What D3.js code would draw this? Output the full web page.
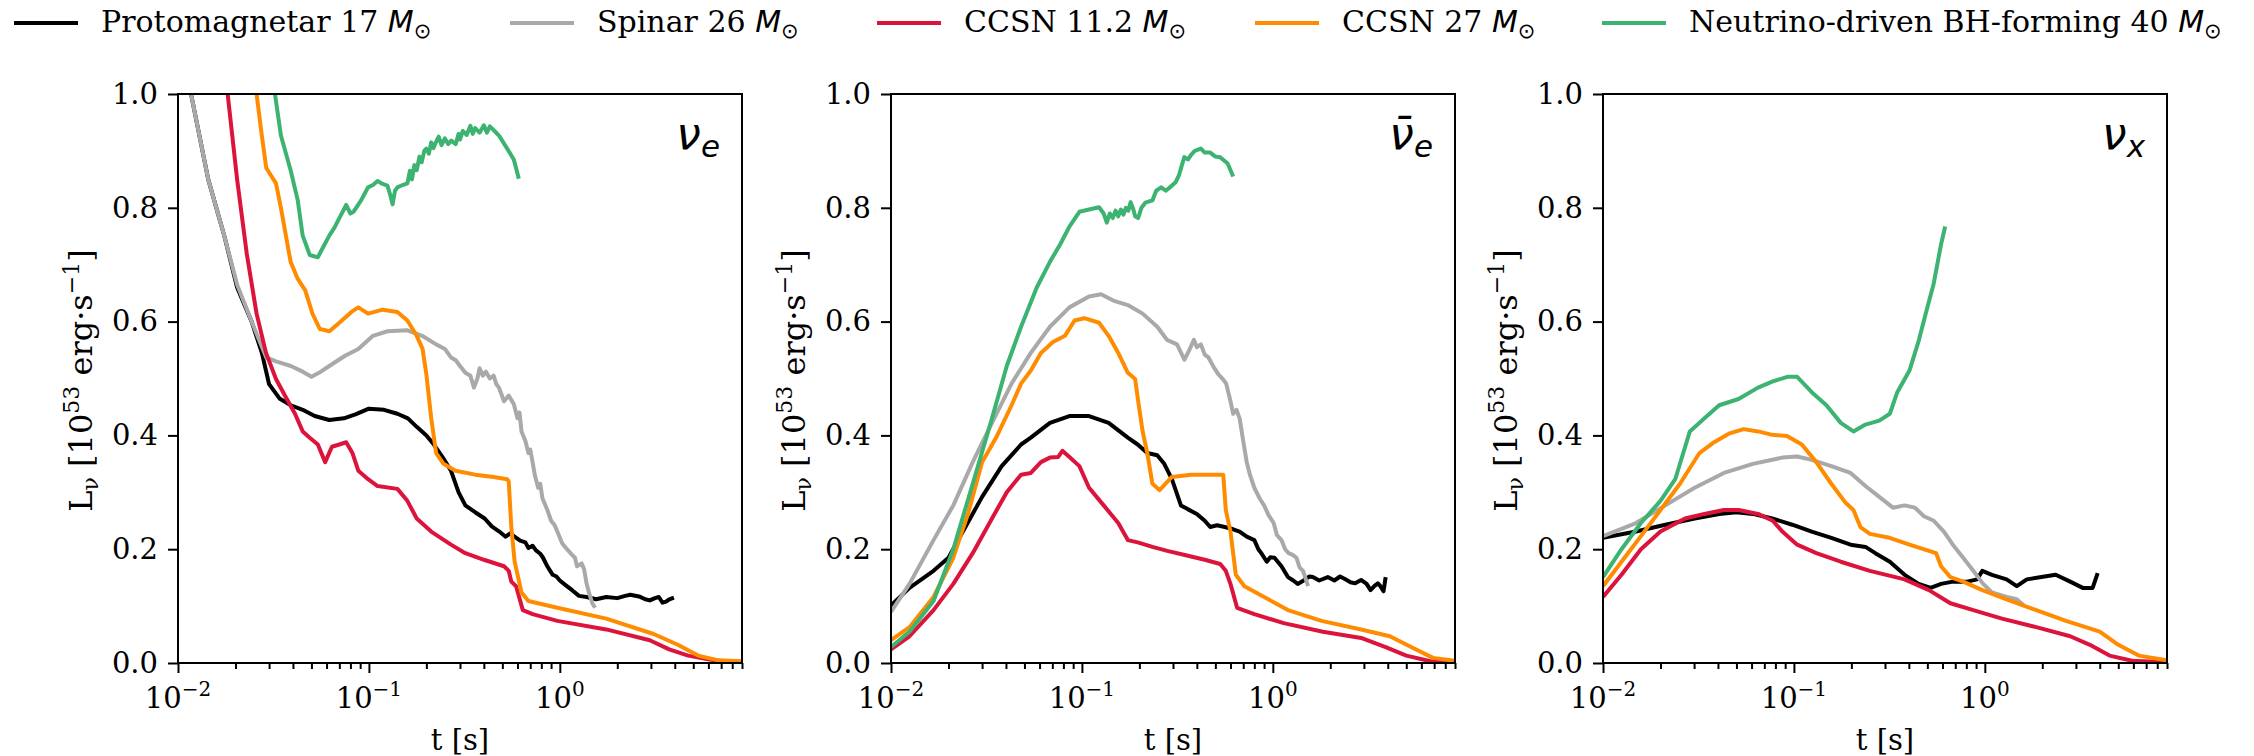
<!DOCTYPE html>
<html>
<head>
<meta charset="UTF-8">
<style>
  body { margin: 0; background: #fff; }
  svg text { font-family: "DejaVu Serif", serif; fill: #000; }
  .math { font-family: "DejaVu Sans", sans-serif; font-style: italic; }
  .sym { font-family: "DejaVu Sans", sans-serif; font-style: normal; }
  .curve { fill: none; stroke-width: 4; stroke-linejoin: round; }
  .spine { fill: none; stroke: #000; stroke-width: 2; }
  .tick line { stroke: #000; stroke-width: 2; }
</style>
</head>
<body>
<script src="https://cdn.jsdelivr.net/npm/d3@7"></script>
<script>
// series names / colours (legend order = drawing order)
var seriesNames = ["Protomagnetar 17 ", "Spinar 26 ", "CCSN 11.2 ", "CCSN 27 ", "Neutrino-driven BH-forming 40 "];
var seriesColors = ["#000000", "#a9a9a9", "#dc143c", "#ff8c00", "#3cb371"];
var yTicks = [0, 0.2, 0.4, 0.6, 0.8, 1.0];
var xMajor = [0.01, 0.1, 1];
var xMajorExp = ["\u22122", "\u22121", "0"];

// [t (s), L (1e53 erg/s)]
// --- nu_e
var nueProto = [[0.01,1.12],[0.0117,1.0],[0.0144,0.85],[0.0175,0.75],[0.0204,0.66],[0.0243,0.60],[0.0275,0.545],[0.030,0.49],[0.034,0.465],[0.039,0.453],[0.045,0.445],[0.052,0.434],[0.062,0.427],[0.074,0.43],[0.085,0.437],[0.10,0.447],[0.12,0.445],[0.141,0.438],[0.16,0.43],[0.178,0.415],[0.20,0.40],[0.219,0.384],[0.245,0.36],[0.269,0.338],[0.295,0.30],[0.32,0.277],[0.36,0.265],[0.404,0.254],[0.44,0.24],[0.482,0.231],[0.52,0.222],[0.55,0.228],[0.574,0.223],[0.62,0.215],[0.66,0.212],[0.685,0.202],[0.72,0.206],[0.75,0.198],[0.79,0.192],[0.817,0.185],[0.86,0.17],[0.89,0.162],[0.918,0.155],[0.96,0.152],[1.0,0.145],[1.08,0.136],[1.16,0.128],[1.26,0.118],[1.38,0.116],[1.55,0.112],[1.75,0.116],[2.0,0.114],[2.2,0.118],[2.34,0.12],[2.6,0.117],[2.8,0.112],[2.96,0.11],[3.15,0.114],[3.3,0.116],[3.45,0.106],[3.6,0.108],[3.75,0.112],[3.96,0.115]];
var nueSpinar = [[0.01,1.12],[0.0117,1.0],[0.0144,0.85],[0.0175,0.75],[0.0204,0.665],[0.0243,0.60],[0.029,0.537],[0.0326,0.53],[0.039,0.522],[0.045,0.512],[0.05,0.503],[0.056,0.512],[0.062,0.522],[0.075,0.54],[0.088,0.552],[0.105,0.575],[0.125,0.583],[0.158,0.585],[0.19,0.575],[0.225,0.56],[0.25,0.552],[0.269,0.537],[0.285,0.532],[0.30,0.522],[0.32,0.51],[0.34,0.505],[0.355,0.484],[0.37,0.50],[0.38,0.518],[0.395,0.505],[0.41,0.512],[0.43,0.50],[0.45,0.505],[0.465,0.49],[0.48,0.484],[0.51,0.46],[0.54,0.47],[0.574,0.455],[0.60,0.43],[0.615,0.44],[0.63,0.407],[0.66,0.39],[0.685,0.369],[0.70,0.375],[0.72,0.353],[0.74,0.33],[0.77,0.308],[0.79,0.315],[0.81,0.29],[0.86,0.269],[0.9,0.25],[0.94,0.242],[0.97,0.231],[1.03,0.21],[1.09,0.2],[1.16,0.19],[1.2,0.185],[1.23,0.17],[1.3,0.175],[1.34,0.165],[1.38,0.14],[1.42,0.124],[1.48,0.105],[1.53,0.097]];
var nueCCSN11 = [[0.0175,1.05],[0.0182,1.0],[0.0204,0.85],[0.0229,0.72],[0.0258,0.614],[0.0289,0.545],[0.0326,0.499],[0.0366,0.468],[0.041,0.438],[0.045,0.407],[0.049,0.396],[0.054,0.384],[0.059,0.353],[0.064,0.38],[0.07,0.384],[0.076,0.388],[0.082,0.369],[0.088,0.338],[0.099,0.323],[0.111,0.311],[0.141,0.306],[0.159,0.285],[0.178,0.254],[0.212,0.231],[0.269,0.208],[0.32,0.193],[0.404,0.181],[0.51,0.17],[0.54,0.162],[0.557,0.143],[0.59,0.135],[0.64,0.093],[0.72,0.086],[0.97,0.074],[1.75,0.059],[2.96,0.04],[3.74,0.024],[4.7,0.013],[6.3,0.005],[9,0.0015]];
var nueCCSN27 = [[0.0255,1.05],[0.0258,1.0],[0.0274,0.93],[0.029,0.87],[0.0326,0.843],[0.0346,0.80],[0.0389,0.705],[0.0424,0.675],[0.0464,0.655],[0.0506,0.614],[0.0553,0.587],[0.0621,0.583],[0.07,0.598],[0.081,0.617],[0.088,0.625],[0.099,0.614],[0.118,0.621],[0.141,0.617],[0.159,0.602],[0.178,0.575],[0.191,0.552],[0.2,0.507],[0.212,0.43],[0.225,0.369],[0.246,0.35],[0.284,0.338],[0.36,0.331],[0.45,0.327],[0.53,0.323],[0.54,0.319],[0.557,0.239],[0.58,0.178],[0.63,0.124],[0.685,0.109],[0.97,0.097],[1.75,0.078],[3.1,0.051],[4.15,0.032],[5.3,0.013],[6.7,0.005],[9,0.003]];
var nueBH = [[0.0315,1.05],[0.0322,1.0],[0.0346,0.927],[0.0389,0.866],[0.0424,0.813],[0.045,0.751],[0.049,0.717],[0.054,0.713],[0.057,0.728],[0.062,0.751],[0.066,0.765],[0.07,0.782],[0.076,0.805],[0.08,0.79],[0.083,0.793],[0.091,0.813],[0.099,0.836],[0.105,0.84],[0.111,0.847],[0.118,0.842],[0.125,0.839],[0.13,0.82],[0.133,0.806],[0.137,0.83],[0.141,0.836],[0.15,0.84],[0.159,0.843],[0.164,0.865],[0.168,0.85],[0.173,0.875],[0.178,0.866],[0.184,0.89],[0.189,0.88],[0.195,0.9],[0.2,0.904],[0.206,0.895],[0.212,0.915],[0.218,0.905],[0.225,0.916],[0.232,0.925],[0.24,0.91],[0.25,0.922],[0.26,0.912],[0.27,0.918],[0.285,0.912],[0.295,0.93],[0.30,0.92],[0.31,0.935],[0.325,0.928],[0.34,0.944],[0.35,0.93],[0.36,0.94],[0.38,0.932],[0.40,0.945],[0.415,0.932],[0.43,0.943],[0.455,0.935],[0.48,0.927],[0.53,0.904],[0.574,0.885],[0.61,0.851]];
// --- anti nu_e
var nuebProto = [[0.01,0.101],[0.0125,0.132],[0.0167,0.162],[0.02,0.185],[0.0238,0.231],[0.03,0.292],[0.038,0.346],[0.048,0.384],[0.054,0.396],[0.068,0.422],[0.086,0.434],[0.109,0.434],[0.138,0.422],[0.174,0.396],[0.196,0.384],[0.22,0.369],[0.248,0.365],[0.27,0.35],[0.296,0.323],[0.33,0.277],[0.36,0.27],[0.4,0.262],[0.44,0.25],[0.47,0.239],[0.51,0.242],[0.56,0.239],[0.62,0.235],[0.67,0.231],[0.73,0.222],[0.8,0.216],[0.84,0.2],[0.87,0.193],[0.93,0.178],[0.97,0.186],[1.02,0.185],[1.11,0.17],[1.2,0.151],[1.28,0.145],[1.35,0.139],[1.45,0.145],[1.55,0.152],[1.62,0.151],[1.75,0.145],[1.94,0.151],[2.1,0.145],[2.25,0.152],[2.4,0.147],[2.55,0.142],[2.7,0.14],[2.9,0.146],[3.1,0.139],[3.25,0.128],[3.4,0.135],[3.55,0.14],[3.66,0.135],[3.8,0.126],[3.9,0.151]];
var nuebSpinar = [[0.01,0.09],[0.0125,0.139],[0.0167,0.216],[0.0212,0.277],[0.0268,0.353],[0.0338,0.422],[0.0428,0.491],[0.054,0.545],[0.068,0.591],[0.086,0.625],[0.109,0.644],[0.126,0.648],[0.146,0.637],[0.174,0.629],[0.208,0.614],[0.248,0.591],[0.279,0.568],[0.315,0.56],[0.344,0.533],[0.365,0.55],[0.386,0.568],[0.40,0.555],[0.42,0.56],[0.44,0.542],[0.46,0.537],[0.49,0.52],[0.52,0.507],[0.55,0.498],[0.57,0.491],[0.6,0.46],[0.62,0.438],[0.645,0.445],[0.67,0.43],[0.7,0.39],[0.73,0.353],[0.76,0.33],[0.8,0.308],[0.85,0.29],[0.9,0.277],[0.95,0.26],[1.01,0.246],[1.05,0.225],[1.11,0.216],[1.16,0.2],[1.21,0.193],[1.27,0.19],[1.33,0.185],[1.38,0.168],[1.44,0.162],[1.53,0.135]];
var nuebCCSN11 = [[0.01,0.024],[0.0125,0.047],[0.0167,0.093],[0.0212,0.139],[0.0268,0.193],[0.0338,0.254],[0.0404,0.30],[0.048,0.331],[0.054,0.334],[0.061,0.353],[0.068,0.361],[0.075,0.362],[0.079,0.373],[0.0866,0.361],[0.097,0.346],[0.109,0.308],[0.13,0.277],[0.155,0.246],[0.174,0.216],[0.196,0.212],[0.234,0.204],[0.28,0.197],[0.355,0.189],[0.445,0.181],[0.53,0.174],[0.567,0.162],[0.6,0.139],[0.65,0.097],[0.8,0.086],[1.14,0.07],[1.83,0.055],[2.9,0.044],[3.9,0.028],[5,0.013],[6.7,0.003],[9,0.0015]];
var nuebCCSN27 = [[0.01,0.04],[0.0125,0.063],[0.0167,0.116],[0.0212,0.185],[0.0253,0.262],[0.03,0.353],[0.0359,0.399],[0.0428,0.453],[0.048,0.491],[0.054,0.514],[0.061,0.545],[0.0705,0.564],[0.0815,0.575],[0.0915,0.602],[0.103,0.606],[0.123,0.598],[0.138,0.575],[0.155,0.545],[0.174,0.51],[0.19,0.499],[0.197,0.461],[0.208,0.407],[0.22,0.369],[0.234,0.315],[0.255,0.304],[0.296,0.327],[0.373,0.331],[0.47,0.331],[0.55,0.331],[0.567,0.269],[0.6,0.231],[0.64,0.155],[0.71,0.135],[0.9,0.116],[1.2,0.093],[1.8,0.074],[2.9,0.059],[4.1,0.047],[5.3,0.028],[6.9,0.009],[9,0.004]];
var nuebBH = [[0.01,0.028],[0.0125,0.055],[0.0167,0.109],[0.0212,0.2],[0.0268,0.315],[0.0338,0.43],[0.0404,0.522],[0.048,0.591],[0.058,0.66],[0.068,0.705],[0.077,0.736],[0.086,0.767],[0.097,0.793],[0.109,0.797],[0.123,0.801],[0.13,0.79],[0.135,0.774],[0.14,0.79],[0.145,0.782],[0.15,0.795],[0.155,0.785],[0.16,0.797],[0.165,0.788],[0.17,0.8],[0.175,0.795],[0.18,0.81],[0.186,0.797],[0.19,0.785],[0.197,0.782],[0.205,0.8],[0.215,0.809],[0.234,0.813],[0.245,0.83],[0.26,0.836],[0.275,0.83],[0.296,0.839],[0.31,0.845],[0.323,0.858],[0.334,0.875],[0.344,0.889],[0.36,0.885],[0.373,0.893],[0.39,0.9],[0.42,0.904],[0.44,0.897],[0.47,0.897],[0.5,0.89],[0.53,0.889],[0.58,0.878],[0.62,0.855]];
// --- nu_x
var nuxProto = [[0.01,0.22],[0.0149,0.231],[0.0212,0.243],[0.0302,0.254],[0.0406,0.262],[0.05,0.265],[0.061,0.262],[0.077,0.254],[0.098,0.243],[0.124,0.231],[0.157,0.22],[0.198,0.208],[0.237,0.204],[0.267,0.193],[0.318,0.178],[0.38,0.155],[0.45,0.139],[0.52,0.132],[0.59,0.139],[0.68,0.143],[0.81,0.143],[0.91,0.147],[0.97,0.162],[1.09,0.155],[1.3,0.147],[1.47,0.135],[1.66,0.147],[1.98,0.151],[2.35,0.155],[2.8,0.143],[3.26,0.132],[3.67,0.132],[3.9,0.158]];
var nuxSpinar = [[0.01,0.223],[0.0149,0.246],[0.0212,0.277],[0.0302,0.308],[0.043,0.334],[0.061,0.35],[0.087,0.361],[0.104,0.363],[0.124,0.357],[0.157,0.346],[0.198,0.334],[0.237,0.311],[0.28,0.292],[0.33,0.273],[0.38,0.277],[0.43,0.273],[0.48,0.258],[0.54,0.25],[0.61,0.231],[0.68,0.208],[0.77,0.185],[0.87,0.162],[0.98,0.139],[1.09,0.124],[1.3,0.116],[1.47,0.112],[1.6,0.101]];
var nuxCCSN11 = [[0.01,0.116],[0.0125,0.155],[0.0158,0.2],[0.02,0.231],[0.0269,0.254],[0.034,0.262],[0.043,0.269],[0.0513,0.269],[0.0649,0.262],[0.0775,0.25],[0.087,0.231],[0.104,0.208],[0.131,0.193],[0.176,0.178],[0.25,0.162],[0.38,0.147],[0.51,0.128],[0.61,0.112],[0.66,0.105],[0.87,0.093],[1.23,0.078],[1.86,0.063],[2.8,0.047],[3.55,0.032],[4.5,0.013],[5.9,0.004],[9,0.0015]];
var nuxCCSN27 = [[0.01,0.135],[0.0125,0.178],[0.0158,0.223],[0.02,0.269],[0.0253,0.315],[0.032,0.369],[0.0382,0.388],[0.0456,0.403],[0.0545,0.411],[0.065,0.407],[0.077,0.401],[0.092,0.399],[0.11,0.384],[0.131,0.353],[0.157,0.315],[0.187,0.281],[0.205,0.269],[0.223,0.239],[0.25,0.227],[0.317,0.22],[0.403,0.208],[0.51,0.197],[0.556,0.193],[0.59,0.17],[0.66,0.151],[0.77,0.143],[0.97,0.128],[1.3,0.112],[1.86,0.093],[2.66,0.074],[4.0,0.055],[5.0,0.032],[6.4,0.013],[9,0.005]];
var nuxBH = [[0.01,0.151],[0.0125,0.2],[0.0158,0.246],[0.02,0.285],[0.0239,0.323],[0.0285,0.407],[0.034,0.43],[0.0406,0.453],[0.0513,0.464],[0.0649,0.484],[0.0775,0.495],[0.0925,0.503],[0.104,0.503],[0.124,0.476],[0.148,0.453],[0.176,0.422],[0.205,0.407],[0.237,0.419],[0.28,0.426],[0.318,0.438],[0.348,0.476],[0.403,0.514],[0.452,0.568],[0.49,0.614],[0.54,0.667],[0.59,0.736],[0.62,0.767]];

var panels = [
  {name: "\u03bd", sub: "e", series: [nueProto, nueSpinar, nueCCSN11, nueCCSN27, nueBH]},
  {name: "\u03bd\u0304", sub: "e", series: [nuebProto, nuebSpinar, nuebCCSN11, nuebCCSN27, nuebBH]},
  {name: "\u03bd", sub: "x", series: [nuxProto, nuxSpinar, nuxCCSN11, nuxCCSN27, nuxBH]}
];

// layout
var W = 2254, H = 756;
var panelLeft = [178, 891, 1603];
var panelW = 564, panelTop = 94, panelH = 569;
var fontSize = 29;
var legendX = [14, 510, 877, 1255, 1602];

var svg = d3.select("body").append("svg")
    .attr("width", W)
    .attr("height", H);

var x = d3.scaleLog().domain([0.01, 9]).range([0, panelW]);
var y = d3.scaleLinear().domain([0, 1]).range([panelH, 0]);
var line = d3.line()
    .x(function(d) { return x(d[0]); })
    .y(function(d) { return y(d[1]); });

var xMinor = [];
xMajor.forEach(function(m) { d3.range(2, 10).forEach(function(k) { xMinor.push(k * m); }); });

panels.forEach(function(p, i) {
    var g = svg.append("g")
        .attr("transform", "translate(" + panelLeft[i] + "," + panelTop + ")");

    g.append("clipPath").attr("id", "clip" + i)
      .append("rect").attr("width", panelW).attr("height", panelH);

    // curves
    p.series.forEach(function(s, j) {
        g.append("path")
            .datum(s)
            .attr("class", "curve")
            .attr("stroke", seriesColors[j])
            .attr("clip-path", "url(#clip" + i + ")")
            .attr("d", line);
    });

    // x ticks (minor + major)
    var xm = g.append("g").attr("transform", "translate(0," + panelH + ")")
        .call(d3.axisBottom(x).tickValues(xMinor).tickSize(6).tickFormat(""));
    var xM = g.append("g").attr("transform", "translate(0," + panelH + ")")
        .call(d3.axisBottom(x).tickValues(xMajor).tickSize(10).tickFormat(""));
    xm.select(".domain").remove();
    xM.select(".domain").remove();

    // x tick labels 10^n
    xMajor.forEach(function(v, k) {
        var t = g.append("text")
            .attr("x", x(v))
            .attr("y", panelH + 45)
            .attr("text-anchor", "middle")
            .style("font-size", fontSize + "px");
        t.append("tspan").text("10");
        t.append("tspan").attr("dy", -12).style("font-size", "20px").text(xMajorExp[k]);
    });

    // y axis
    var ya = g.append("g")
        .call(d3.axisLeft(y).tickValues(yTicks).tickSize(10).tickPadding(10).tickFormat(d3.format(".1f")));
    ya.select(".domain").remove();
    ya.selectAll("text")
        .attr("font-family", null)
        .style("font-size", fontSize + "px");

    // frame
    g.append("rect").attr("class", "spine")
        .attr("width", panelW).attr("height", panelH);

    // x label
    g.append("text")
        .attr("x", panelW / 2)
        .attr("y", panelH + 87)
        .attr("text-anchor", "middle")
        .style("font-size", fontSize + "px")
        .text("t [s]");

    // y label
    var yl = g.append("text")
        .attr("transform", "translate(-86," + (panelH / 2 + 2) + ") rotate(-90)")
        .attr("text-anchor", "middle")
        .style("font-size", "32px");
    yl.append("tspan").text("L");
    yl.append("tspan").attr("dy", 6).style("font-size", "22px").text("\u03bd");
    yl.append("tspan").attr("dy", -6).text(" [10");
    yl.append("tspan").attr("dy", -13).style("font-size", "22px").text("53");
    yl.append("tspan").attr("dy", 13).text(" erg\u00b7s");
    yl.append("tspan").attr("dy", -13).style("font-size", "22px").text("\u22121");
    yl.append("tspan").attr("dy", 13).text("]");

    // neutrino flavour label
    var nl = g.append("text")
        .attr("class", "math")
        .attr("x", panelW - 22)
        .attr("y", 55)
        .attr("text-anchor", "end")
        .style("font-size", "44px");
    nl.append("tspan").text(p.name);
    nl.append("tspan").attr("dy", 8).style("font-size", "31px").text(p.sub);
});

// legend
seriesNames.forEach(function(name, j) {
    var lg = svg.append("g").attr("transform", "translate(" + legendX[j] + ",0)");
    lg.append("line")
        .attr("x1", 0).attr("x2", 64)
        .attr("y1", 23).attr("y2", 23)
        .attr("stroke", seriesColors[j])
        .attr("stroke-width", 4);
    var t = lg.append("text")
        .attr("x", 87)
        .attr("y", 32)
        .style("font-size", "30px");
    t.append("tspan").text(name);
    t.append("tspan").attr("class", "math").text("M");
    t.append("tspan").attr("class", "sym").attr("dy", 6).style("font-size", "21px").text("\u2299");
});
</script>
</body>
</html>
